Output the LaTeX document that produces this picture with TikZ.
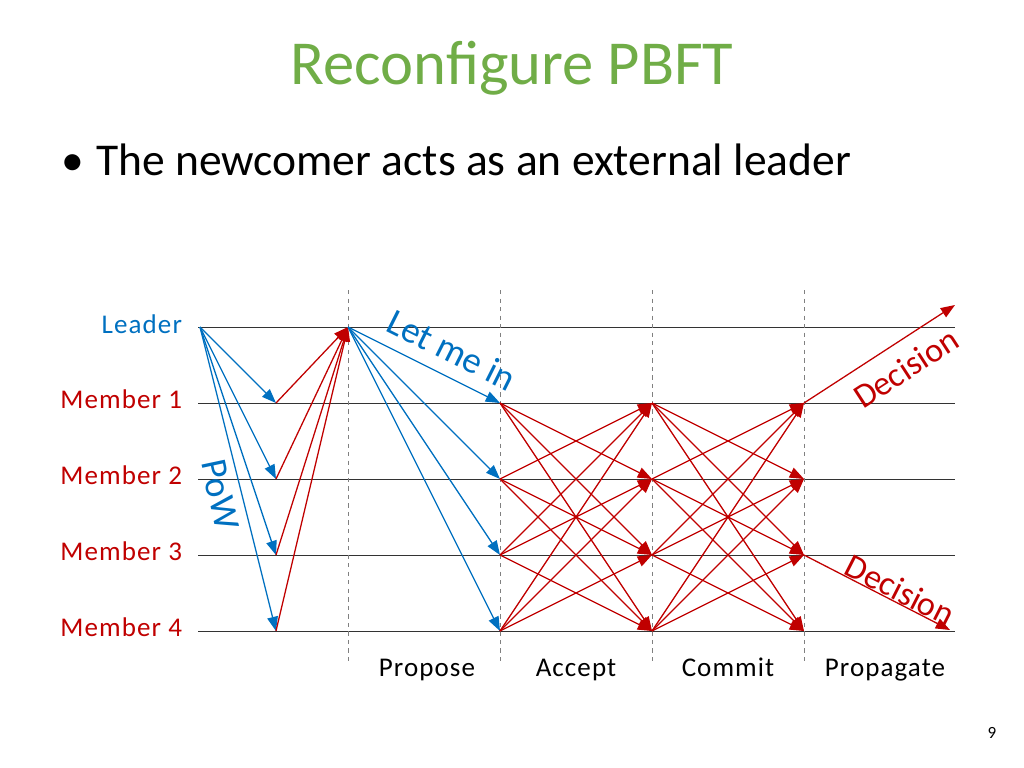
\documentclass[tikz,border=0pt]{standalone}
\usepackage{fontspec}
\setmainfont{Carlito}
\usetikzlibrary{arrows.meta}
\definecolor{titlegreen}{HTML}{70AD47}
\definecolor{pblue}{HTML}{0070C0}
\definecolor{pred}{HTML}{C00000}
\tikzset{
  msg/.style={-{Triangle[length=10pt,width=7.5pt]}, line width=0.9pt},
  lane/.style={draw=black!80, line width=0.7pt},
  phase/.style={draw=gray, dashed, line width=0.6pt},
  lbl/.style={font=\fontsize{19}{22}\selectfont\addfontfeature{LetterSpace=4}},
}
\begin{document}
\begin{tikzpicture}[x=0.703pt,y=-0.703pt]
      \useasboundingbox (0,0) rectangle (1024,768);
      \node (title) at (512,68) [text=titlegreen, font=\fontsize{44}{50}\selectfont] {Reconfigure PBFT};
      \node (bullet) at (56,160) [anchor=west, font=\fontsize{32}{38}\selectfont] {\textbullet\hspace{0.05em} The newcomer acts as an external leader};
      % lanes
      \node (L) at (187,324) [anchor=east, text=pblue, lbl] {Leader};
      \foreach \i/\y in {1/403,2/479,3/555,4/631}
        \node (M\i) at (187,\y-4) [anchor=east, text=pred, lbl] {Member \i};
      \foreach \y in {327,403,479,555,631}
        \draw[lane] (198,\y) -- (955,\y);
      \foreach \x in {348,500,652,804}
        \draw[phase] (\x,290) -- (\x,662);
      \node (P1) at (427,676) [anchor=base, lbl] {Propose};
      \node (P2) at (576,676) [anchor=base, lbl] {Accept};
      \node (P3) at (728,676) [anchor=base, lbl] {Commit};
      \node (P4) at (885,676) [anchor=base, lbl] {Propagate};
      % points
      \coordinate (s) at (200,327);
      \coordinate (n) at (348,327);
      \foreach \i/\y in {1/403,2/479,3/555,4/631} {
        \coordinate (a\i) at (276,\y);
        \coordinate (b\i) at (500,\y);
        \coordinate (c\i) at (652,\y);
        \coordinate (d\i) at (804,\y);
      }
      \coordinate (e1) at (955,305);
      \coordinate (e3) at (950,630);
      % PoW and join
      \foreach \i in {1,...,4} {
        \draw[msg, pblue] (s) -- (a\i);
        \draw[msg, pred] (a\i) -- (n);
        \draw[msg, pblue] (n) -- (b\i);
      }
      % all-to-all
      \foreach \i in {1,...,4}
        \foreach \j in {1,...,4} {
          \ifnum\i=\j\else
            \draw[msg, pred] (b\i) -- (c\j);
            \draw[msg, pred] (c\i) -- (d\j);
          \fi
        }
      \draw[msg, pred] (d1) -- (e1);
      \draw[msg, pred] (d3) -- (e3);
      \node (pow) at (220,495) [rotate=-78, text=pblue, font=\fontsize{26}{30}\selectfont] {PoW};
      \node (letme) at (452,350) [rotate=-26.6, text=pblue, font=\fontsize{26}{30}\selectfont] {Let me in};
      \node (dec1) at (906,368) [rotate=33, text=pred, font=\fontsize{24}{28}\selectfont] {Decision};
      \node (dec3) at (900,590) [rotate=-27, text=pred, font=\fontsize{24}{28}\selectfont] {Decision};
      \node (page) at (992,733) [font=\fontsize{12}{14}\selectfont] {9};
\end{tikzpicture}
\end{document}
